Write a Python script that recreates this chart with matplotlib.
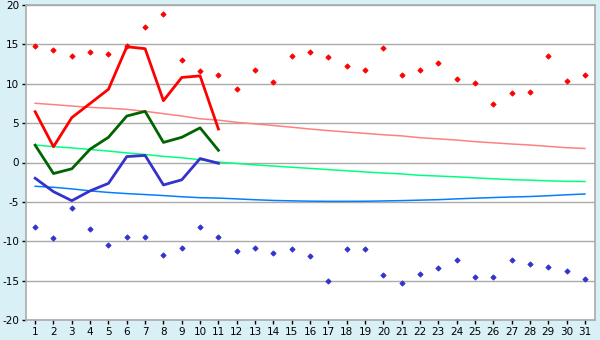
import numpy as np
from matplotlib import pyplot as plt

plt.rcParams["axes.unicode_minus"] = False

# ===data
days = np.arange(1, 32)

max_points = [14.8, 14.25, 13.5, 14.0, 13.8, 14.8, 17.2, 18.8, 13.0, 11.6,
              11.1, 9.3, 11.8, 10.2, 13.5, 14.0, 13.35, 12.3, 11.8, 14.6,
              11.1, 11.8, 12.6, 10.55, 10.05, 7.4, 8.8, 8.9, 13.5, 10.4, 11.1]
min_points = [-8.2, -9.6, -5.8, -8.5, -10.5, -9.4, -9.5, -11.8, -10.9, -8.2,
              -9.5, -11.3, -10.8, -11.5, -11.0, -11.9, -15.0, -11.0, -11.0, -14.3,
              -15.3, -14.2, -13.4, -12.4, -14.6, -14.6, -12.4, -12.9, -13.3, -13.8, -14.8]

line_days = np.arange(1, 12)
max_line = [6.45, 2.0, 5.7, 7.5, 9.3, 14.7, 14.45, 7.85, 10.8, 11.0, 4.25]
mean_line = [2.2, -1.4, -0.8, 1.7, 3.2, 5.9, 6.5, 2.55, 3.2, 4.4, 1.55]
min_line = [-2.0, -3.7, -4.85, -3.6, -2.65, 0.75, 0.9, -2.85, -2.2, 0.5, -0.1]

max_trend = [7.52, 7.35, 7.17, 7.0, 6.9, 6.75, 6.5, 6.2, 5.9, 5.55,
             5.38, 5.1, 4.9, 4.7, 4.48, 4.25, 4.05, 3.87, 3.7, 3.52,
             3.38, 3.15, 3.0, 2.85, 2.65, 2.5, 2.35, 2.22, 2.05, 1.88, 1.78]
mean_trend = [2.22, 2.02, 1.85, 1.65, 1.45, 1.22, 1.02, 0.78, 0.6, 0.35,
              0.05, -0.12, -0.3, -0.45, -0.6, -0.75, -0.9, -1.05, -1.2, -1.33,
              -1.45, -1.63, -1.72, -1.82, -1.95, -2.07, -2.18, -2.24, -2.33, -2.39, -2.42]
min_trend = [-3.02, -3.15, -3.35, -3.6, -3.8, -3.95, -4.07, -4.2, -4.35, -4.47,
             -4.52, -4.62, -4.73, -4.82, -4.87, -4.91, -4.93, -4.93, -4.92, -4.88,
             -4.84, -4.78, -4.72, -4.62, -4.53, -4.45, -4.38, -4.32, -4.22, -4.1, -4.0]

y_ticks = np.arange(-20, 21, 5)


def main():
    fig = plt.figure(figsize=(6, 3.4), dpi=100, facecolor="#d9f0f7")
    ax = fig.add_axes([26 / 600, 20 / 340, 569 / 600, 315 / 340])
    ax.set_facecolor("white")

    # trend lines
    ax.plot(days, max_trend, color="#ff8080", lw=1.1)
    ax.plot(days, mean_trend, color="#00ff80", lw=1.1)
    ax.plot(days, min_trend, color="#0080ff", lw=1.1)

    # daily lines
    ax.plot(line_days, max_line, color="#ff0000", lw=2)
    ax.plot(line_days, mean_line, color="#006400", lw=2)
    ax.plot(line_days, min_line, color="#3333cc", lw=2)

    # extremes
    ax.plot(days, max_points, ls="none", marker="D", ms=2.7, mew=0.6, color="#ff0000")
    ax.plot(days, min_points, ls="none", marker="D", ms=2.7, mew=0.6, color="#3333cc")

    ax.set_xlim(0.5, 31.55)
    ax.set_ylim(-20, 20)
    ax.set_xticks(days)
    ax.set_yticks(y_ticks)
    ax.grid(axis="y", color="#aaaaaa", lw=1)
    ax.set_axisbelow(True)
    for s in ax.spines.values():
        s.set_color("#aaaaaa")
        s.set_linewidth(1.2)
    ax.tick_params(axis="both", labelsize=7.5, color="black", length=3, width=1, pad=2)
    # plt.savefig("tmp.png", dpi=600)
    fig.savefig("out.png", dpi=100, facecolor=fig.get_facecolor())


if __name__ == "__main__":
    main()
